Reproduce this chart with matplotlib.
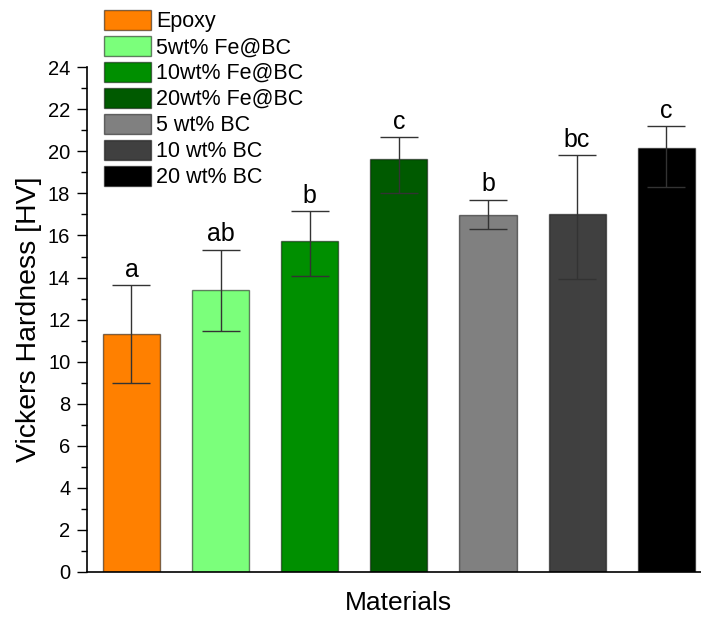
import matplotlib
matplotlib.use("Agg")
import matplotlib.pyplot as plt
import numpy as np

plt.rcParams['font.family'] = ['Liberation Sans', 'DejaVu Sans']

# --- data ---
materials = ["Epoxy", "5wt% Fe@BC", "10wt% Fe@BC", "20wt% Fe@BC",
             "5 wt% BC", "10 wt% BC", "20 wt% BC"]
hardness = [11.3, 13.4, 15.75, 19.62, 16.97, 17.0, 20.15]
err_low = [2.32, 1.93, 1.68, 1.58, 0.68, 3.05, 1.86]
err_high = [2.33, 1.92, 1.40, 1.04, 0.74, 2.83, 1.05]
letters = ["a", "ab", "b", "c", "b", "bc", "c"]
colors = ["#FF8000", "#7BFF7B", "#008F00", "#005A00",
          "#808080", "#404040", "#000000"]

fig = plt.figure(figsize=(7.01, 6.17), dpi=100)
ax = fig.add_axes([0.124, 0.073, 0.89, 0.818])

x = np.arange(1, len(materials) + 1)
bars = ax.bar(x, hardness, width=0.64, color=colors,
              edgecolor=(0, 0, 0, 0.5), linewidth=1.0, zorder=2)
ax.errorbar(x, hardness, yerr=[err_low, err_high], fmt='none',
            ecolor='#333333', elinewidth=1.0, capsize=14, capthick=1.0,
            zorder=3)

for xi, h, e, lab in zip(x, hardness, err_high, letters):
    ax.annotate(lab, (xi, h + e), xytext=(0, 6), textcoords='offset points',
                ha='center', va='baseline', fontsize=18)

ax.set_xlim(0.5, 7.5)
ax.set_ylim(0, 24)
ax.set_yticks(np.arange(0, 25, 2))
ax.set_yticks(np.arange(1, 24, 2), minor=True)
ax.set_xticks([])
ax.tick_params(axis='y', which='major', length=7, width=1.0, labelsize=14.5, pad=5)
ax.tick_params(axis='y', which='minor', length=4, width=1.0)
for s in ['top', 'right']:
    ax.spines[s].set_visible(False)
for s in ['left', 'bottom']:
    ax.spines[s].set_linewidth(1.2)

ax.set_xlabel("Materials", fontsize=19, labelpad=14)
ax.set_ylabel("Vickers Hardness [HV]", fontsize=20.5, labelpad=4)

fig.legend(bars, materials, loc='upper left', bbox_to_anchor=(0.148, 0.984),
           frameon=False, fontsize=15.5, handlelength=2.2, handleheight=1.05,
           handletextpad=0.22, labelspacing=0.17, borderpad=0, borderaxespad=0)

fig.savefig("out.png", dpi=100)
